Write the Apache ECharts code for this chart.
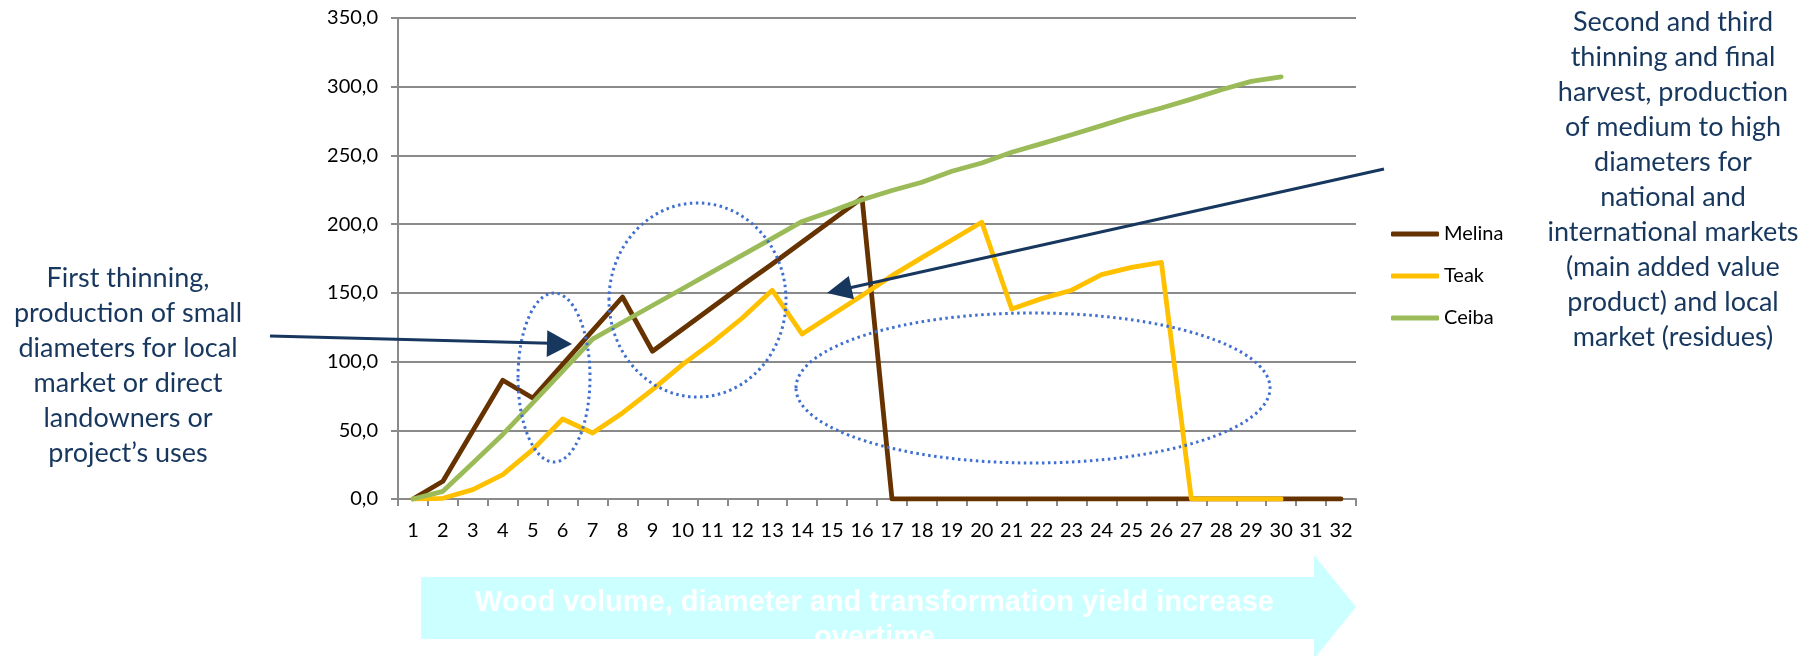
<!DOCTYPE html>
<html>
<head>
<meta charset="utf-8">
<script src="https://cdn.jsdelivr.net/npm/echarts@6/dist/echarts.min.js"></script>
<style>
html,body{margin:0;padding:0;background:#fff;}
#chart{width:1813px;height:656px;}
</style>
</head>
<body>
<div id="chart"></div>
<script>
var years = ['1','2','3','4','5','6','7','8','9','10','11','12','13','14','15','16','17','18','19','20','21','22','23','24','25','26','27','28','29','30','31','32'];
var melina = [0, 12.9, 49.6, 86.4, 73.5, 98, 122.5, 147, 107.5, 123.5, 139.5, 155.5, 171, 187, 203, 219, 0, 0, 0, 0, 0, 0, 0, 0, 0, 0, 0, 0, 0, 0, 0, 0];
var teak = [0, 0.5, 6.8, 17.7, 35.9, 58.2, 48, 62.6, 79.6, 97.8, 114, 131.7, 151.9, 120, 134, 148, 162.5, 175.6, 188.5, 201.4, 138.3, 145.8, 151.9, 163.3, 168.6, 172.2, 0, 0, 0, 0, null, null];
var ceiba = [0, 5.6, 26.2, 47, 70, 93, 116.4, 128.6, 140.8, 153, 165.2, 177.4, 189.6, 202, 209.5, 217.8, 224.5, 230.5, 238.5, 244.5, 252.3, 258.6, 265.1, 271.7, 278.5, 284.5, 291, 297.8, 303.9, 307.1, null, null];
var yTicks = {min: 0, max: 350, step: 50};
var seriesNames = ['Melina', 'Teak', 'Ceiba'];
var leftNote = 'First thinning,\nproduction of small\ndiameters for local\nmarket or direct\nlandowners or\nproject\u2019s uses';
var rightNote = 'Second and third\nthinning and final\nharvest, production\nof medium to high\ndiameters for\nnational and\ninternational markets\n(main added value\nproduct) and local\nmarket (residues)';
var bottomNote = 'Wood volume, diameter and transformation yield increase\novertime';

var chart = echarts.init(document.getElementById('chart'), null, {renderer: 'canvas'});
var gray = '#8a8a8a';
var navy = '#17375E';
var dotBlue = '#3F6FCF';
var font = 'Lato, "Open Sans", sans-serif';

function mkSeries(name, data, color) {
  return {
    name: name, type: 'line', data: data, symbol: 'none', showSymbol: false, connectNulls: false,
    lineStyle: {width: 4.8, color: color, cap: 'round', join: 'round'},
    itemStyle: {color: color},
    emphasis: {disabled: true}, animation: false
  };
}

var option = {
  animation: false,
  backgroundColor: '#fff',
  textStyle: {fontFamily: font},
  grid: {left: 398, top: 18, right: 457, bottom: 157},
  legend: {
    orient: 'vertical', left: 1391, top: 224, padding: 0,
    icon: 'roundRect',
    itemWidth: 48, itemHeight: 5, itemGap: 22,
    textStyle: {fontFamily: font, fontSize: 20, color: '#000', lineHeight: 20, padding: [0, 0, 0, 0]},
    data: seriesNames
  },
  xAxis: {
    type: 'category', data: years, boundaryGap: true,
    axisLine: {lineStyle: {color: gray, width: 2}},
    axisTick: {show: true, length: 7, lineStyle: {color: gray, width: 2}},
    axisLabel: {color: '#000', fontFamily: font, fontSize: 20, margin: 22, interval: 0}
  },
  yAxis: {
    type: 'value', min: yTicks.min, max: yTicks.max, interval: yTicks.step,
    axisLine: {show: true, lineStyle: {color: gray, width: 2}},
    axisTick: {show: true, length: 7, lineStyle: {color: gray, width: 2}},
    splitLine: {lineStyle: {color: gray, width: 2}},
    axisLabel: {color: '#000', fontFamily: font, fontSize: 20, margin: 20,
      formatter: function (v) { return v.toFixed(1).replace('.', ','); }}
  },
  series: [
    mkSeries(seriesNames[0], melina, '#663300'),
    mkSeries(seriesNames[1], teak, '#FFC000'),
    mkSeries(seriesNames[2], ceiba, '#9BBB59')
  ],
  graphic: [
    {type: 'ellipse', z: 100, shape: {cx: 554, cy: 377.5, rx: 36, ry: 84.5},
      style: {fill: null, stroke: dotBlue, lineWidth: 3, lineDash: [2.5, 3.5]}},
    {type: 'ellipse', z: 100, shape: {cx: 697.5, cy: 300, rx: 88.5, ry: 97},
      style: {fill: null, stroke: dotBlue, lineWidth: 3, lineDash: [2.5, 3.5]}},
    {type: 'ellipse', z: 100, shape: {cx: 1033, cy: 388, rx: 237, ry: 75},
      style: {fill: null, stroke: dotBlue, lineWidth: 3, lineDash: [2.5, 3.5]}},
    {type: 'line', z: 101, shape: {x1: 270, y1: 336, x2: 550, y2: 343.3},
      style: {stroke: navy, lineWidth: 3}},
    {type: 'polygon', z: 101, shape: {points: [[572, 344], [547.3, 330.3], [546.7, 357]]},
      style: {fill: navy}},
    {type: 'line', z: 101, shape: {x1: 1384, y1: 169, x2: 849, y2: 288},
      style: {stroke: navy, lineWidth: 3}},
    {type: 'polygon', z: 101, shape: {points: [[827, 293], [848.8, 275.9], [854, 299.3]]},
      style: {fill: navy}},
    {type: 'text', z: 102, style: {text: leftNote, x: 128, y: 260.5, align: 'center', verticalAlign: 'top',
      font: '27px ' + font, lineHeight: 35, fill: navy}},
    {type: 'text', z: 102, style: {text: rightNote, x: 1673, y: 4.5, align: 'center', verticalAlign: 'top',
      font: '27px ' + font, lineHeight: 35, fill: navy}},
    {type: 'polygon', z: 50, shape: {points: [[421, 577], [1314, 577], [1314, 555], [1356, 607], [1314, 659], [1314, 639], [421, 639]]},
      style: {fill: '#CCFFFF'}},
    {type: 'text', z: 51, style: {text: bottomNote, x: 874.5, y: 585, align: 'center', verticalAlign: 'top',
      font: 'bold 29px "Liberation Sans", Arial, sans-serif', lineHeight: 35, fill: '#fff'}}
  ]
};
chart.setOption(option);
</script>
</body>
</html>
